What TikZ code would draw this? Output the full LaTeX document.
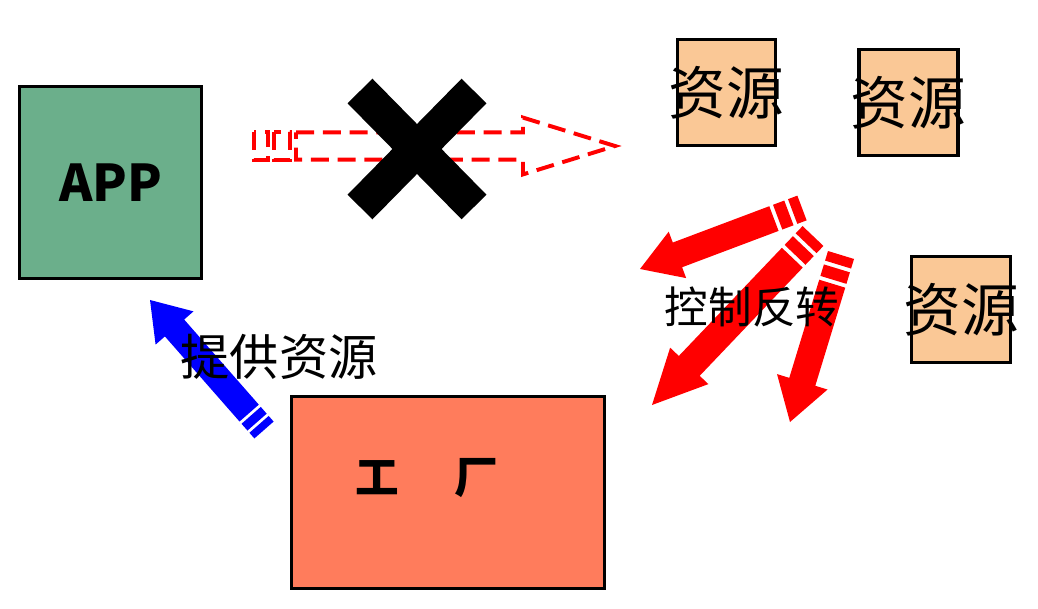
\documentclass[tikz,border=0pt]{standalone}
\usepackage{fontspec}
\setmainfont{Noto Sans CJK SC}
\usetikzlibrary{calc}

\definecolor{appgreen}{RGB}{107,175,139}
\definecolor{respeach}{RGB}{250,200,150}
\definecolor{factorycoral}{RGB}{255,124,92}

\tikzstyle{Box}=[draw=black, line width=2.6pt, inner sep=0pt]
\tikzstyle{App Box}=[Box, fill=appgreen, minimum width=4.55cm, minimum height=4.8cm]
\tikzstyle{Res Box}=[Box, fill=respeach, minimum width=2.48cm, minimum height=2.65cm]
\tikzstyle{Factory Box}=[Box, fill=factorycoral, minimum width=7.82cm, minimum height=4.8cm]
\tikzstyle{Res Text}=[inner sep=0pt, font=\fontsize{41}{41}\selectfont]
\tikzstyle{Solid Red}=[fill=red]
\tikzstyle{Solid Blue}=[fill=blue]
\tikzstyle{Dashed Red}=[draw=red, line width=2.8pt, dash pattern=on 0.45cm off 0.22cm]
\tikzstyle{Cross}=[draw=black, line width=0.875cm]

% striped block arrow: [stripe scale]{style}{tail}{tip}{half shaft}{half head}{head length}
\newcommand{\stripearrow}[7][1]{%
  \path[#2] ($(#3)!#5!90:(#4)$) -- ($(#3)!#5!-90:(#4)$)
    -- ($(#3)!#1*0.25cm!(#4)!#5!-90:(#4)$) -- ($(#3)!#1*0.25cm!(#4)!#5!90:(#4)$) -- cycle;
  \path[#2] ($(#3)!#1*0.35cm!(#4)!#5!90:(#4)$) -- ($(#3)!#1*0.35cm!(#4)!#5!-90:(#4)$)
    -- ($(#3)!#1*0.65cm!(#4)!#5!-90:(#4)$) -- ($(#3)!#1*0.65cm!(#4)!#5!90:(#4)$) -- cycle;
  \path[#2] ($(#3)!#1*0.75cm!(#4)!#5!90:(#4)$)
    -- ($(#4)!#7!(#3)!#5!-90:(#3)$) -- ($(#4)!#7!(#3)!#6!-90:(#3)$)
    -- (#4)
    -- ($(#4)!#7!(#3)!#6!90:(#3)$) -- ($(#4)!#7!(#3)!#5!90:(#3)$)
    -- ($(#3)!#1*0.75cm!(#4)!#5!-90:(#4)$) -- cycle;
}

\begin{document}
\begin{tikzpicture}[x=0.025cm, y=-0.025cm]
	\useasboundingbox (0,0) rectangle (1038,609);

	% boxes
	\node [style=App Box] (app) at (110.5,182.5) {};
	\node [font=\fontsize{36}{36}\selectfont\bfseries] (apptext) at (app) {APP};
	\node [style=Res Box, minimum width=2.45cm] (res1) at (726.5,92.5) {};
	\node [style=Res Box] (res2) at (908.5,102.5) {};
	\node [style=Res Box] (res3) at (961,309.5) {};
	\node [style=Res Text] (res1text) at (res1) {资源};
	\node [style=Res Text] (res2text) at (res2) {资源};
	\node [style=Res Text] (res3text) at (res3) {资源};
	\node [style=Factory Box] (factory) at (448,492.5) {};
	\node [inner sep=0pt, font=\fontsize{31}{31}\selectfont\bfseries] (factorytext) at (427,478) {工\hspace{1.27em}厂};

	% blocked direct access
	\coordinate (dtail) at (254,146);
	\coordinate (dtip) at (615,146);
	\stripearrow[1.4]{Dashed Red}{dtail}{dtip}{0.34cm}{0.71cm}{2.3cm}
	\draw [style=Cross] (360,91) -- (474,207);
	\draw [style=Cross] (474,91) -- (360,207);

	% inversion of control
	\coordinate (atail) at (802,208);
	\coordinate (atip) at (640,269);
	\coordinate (btail) at (813,236);
	\coordinate (btip) at (652,405);
	\coordinate (ctail) at (841,255);
	\coordinate (ctip) at (790,422);
	\stripearrow{Solid Red}{atail}{atip}{0.33cm}{0.62cm}{1.0cm}
	\stripearrow{Solid Red}{btail}{btip}{0.36cm}{0.66cm}{1.35cm}
	\stripearrow{Solid Red}{ctail}{ctip}{0.34cm}{0.66cm}{1.05cm}
	\node [inner sep=0pt, font=\fontsize{31}{31}\selectfont] (ioc) at (752,307) {控制反转};

	% factory supplies the app
	\coordinate (etail) at (264,430);
	\coordinate (etip) at (150,300);
	\stripearrow[0.75]{Solid Blue}{etail}{etip}{0.32cm}{0.63cm}{0.93cm}
	\node [inner sep=0pt, font=\fontsize{35}{35}\selectfont] (supply) at (279,357) {提供资源};
\end{tikzpicture}
\end{document}
